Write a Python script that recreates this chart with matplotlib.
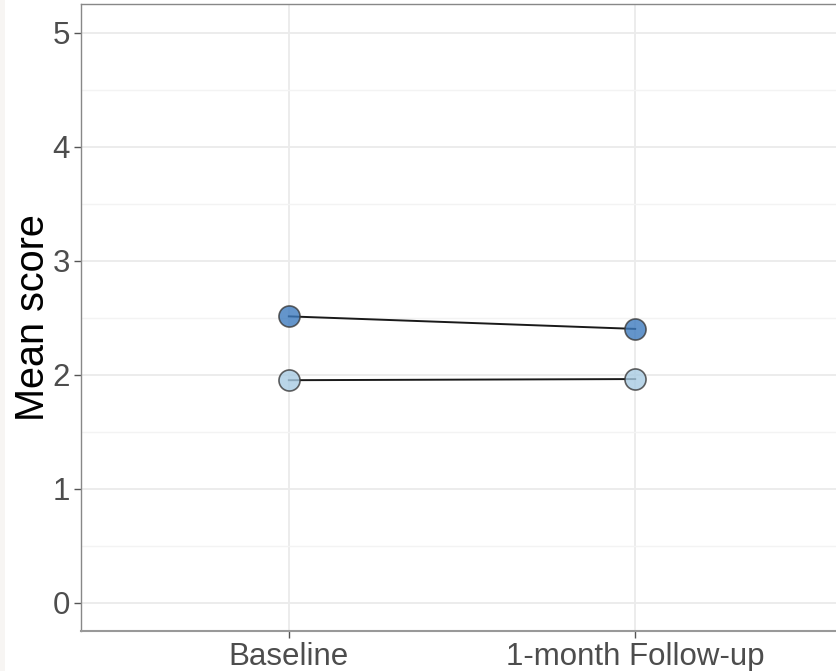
import matplotlib.pyplot as plt
from matplotlib.patches import Rectangle
from matplotlib.ticker import MultipleLocator

plt.rcParams["font.family"] = ["Liberation Sans", "DejaVu Sans"]

# Data
timepoints = ["Baseline", "1-month Follow-up"]
group_high = [2.51, 2.40]
group_low = [1.95, 1.96]
group_colors = ["#3d7bbf", "#a8cbe3"]

W, H = 837, 671
fig = plt.figure(figsize=(W / 100, H / 100), dpi=100)
fig.patch.set_facecolor("white")
fig.add_artist(Rectangle((0, 0), 5 / W, 1, transform=fig.transFigure,
                         facecolor="#f7f5f3", edgecolor="none", zorder=0))

# panel runs off the right edge, as in the reference crop
left, right, top, bottom = 81, 843, 4, 631
ax = fig.add_axes([left / W, 1 - bottom / H, (right - left) / W, (bottom - top) / H])

x = list(range(len(timepoints)))
for vals, col in zip([group_high, group_low], group_colors):
    ax.plot(x, vals, color="#1a1a1a", lw=1.4, zorder=3)
    ax.scatter(x, vals, s=230, color=col, alpha=0.8, edgecolors="#3a3a3a",
               linewidths=1.2, zorder=4)

ax.set_xlim(-0.6, 1.6)
ax.set_ylim(-0.25, 5.25)
ax.set_xticks(x)
ax.set_xticklabels(timepoints)
ax.yaxis.set_major_locator(MultipleLocator(1))
ax.yaxis.set_minor_locator(MultipleLocator(0.5))

ax.grid(True, which="major", color="#ebebeb", lw=1.3, zorder=0)
ax.grid(True, which="minor", axis="y", color="#f3f3f3", lw=1.0, zorder=0)
ax.set_axisbelow(True)

for side in ["left", "top", "right"]:
    ax.spines[side].set_color("#888888")
    ax.spines[side].set_linewidth(1.0)
ax.spines["bottom"].set_color("#999999")
ax.spines["bottom"].set_linewidth(1.5)

ax.tick_params(axis="both", which="major", length=5, width=1, color="#555555",
               labelsize=22.5, labelcolor="#4d4d4d", pad=3)
ax.tick_params(axis="y", which="minor", length=0)
ax.set_ylabel("Mean score", fontsize=28.5, color="black", labelpad=0)

fig.savefig("out.png", dpi=100)
